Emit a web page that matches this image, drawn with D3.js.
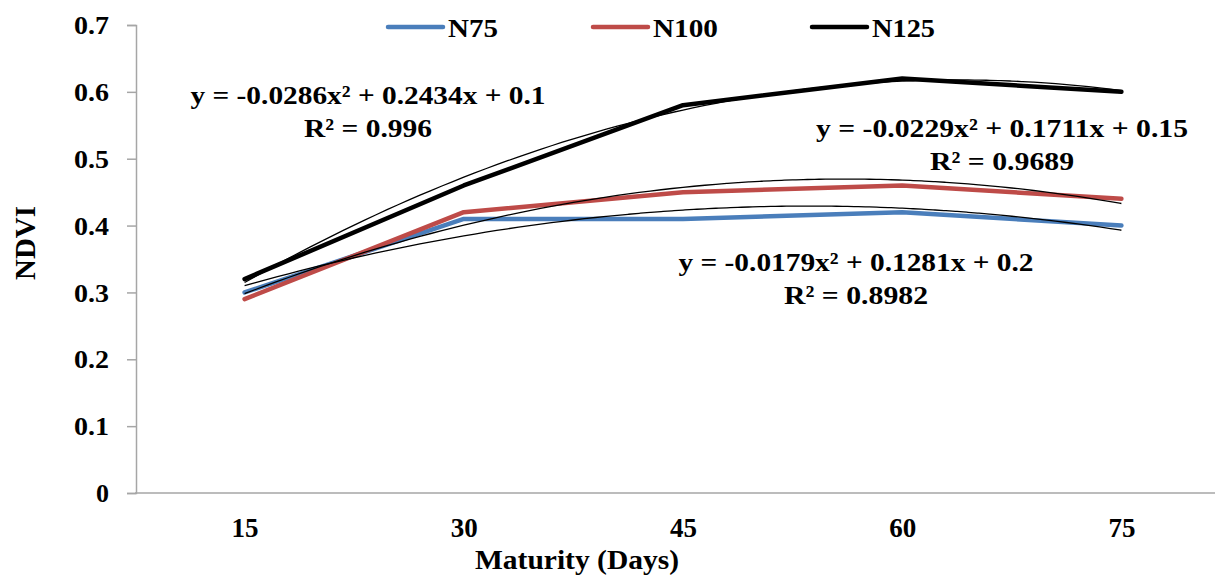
<!DOCTYPE html>
<html>
<head>
<meta charset="utf-8">
<script src="https://cdn.jsdelivr.net/npm/d3@7"></script>
<style>
  html, body { margin: 0; padding: 0; background: #fff; }
  svg text { font-family: "Liberation Serif", "Times New Roman", serif; font-weight: bold; fill: #000; }
</style>
</head>
<body>
<svg id="chart" width="1215" height="575"></svg>
<script>
// Maturity stages (days after sowing)
const days = ["15", "30", "45", "60", "75"];

// NDVI readings per nitrogen level
const n75  = [0.30, 0.41, 0.41, 0.42, 0.40];
const n100 = [0.29, 0.42, 0.45, 0.46, 0.44];
const n125 = [0.32, 0.46, 0.58, 0.62, 0.60];

const seriesNames  = ["N75", "N100", "N125"];
const seriesColors = ["#4a7ebb", "#be4b48", "#000000"];

// Polynomial (order 2) trendline coefficients [a, b, c] : y = a x^2 + b x + c, x = category index 1..5
const trendN75  = [-0.0179, 0.1281, 0.2];
const trendN100 = [-0.0229, 0.1711, 0.15];
const trendN125 = [-0.0286, 0.2434, 0.1];

const trendLabels = [
  ["y = -0.0179x² + 0.1281x + 0.2", "R² = 0.8982"],
  ["y = -0.0229x² + 0.1711x + 0.15", "R² = 0.9689"],
  ["y = -0.0286x² + 0.2434x + 0.1", "R² = 0.996"]
];

const yTicks = [0, 0.1, 0.2, 0.3, 0.4, 0.5, 0.6, 0.7];

const svg = d3.select("#chart");

const x = d3.scalePoint().domain(days).range([135, 1231]).padding(0.5);
const y = d3.scaleLinear().domain([0, 0.7]).range([493, 25]);

// x position for a fractional category index (1-based)
const xIdx = d3.scaleLinear().domain([1, 5]).range([x(days[0]), x(days[4])]);

// Axes
const yAxis = d3.axisLeft(y).tickValues(yTicks).tickSize(9).tickPadding(18)
  .tickFormat(d => d === 0 ? "0" : d3.format(".1f")(d));
const gy = svg.append("g").attr("transform", "translate(136,0)").call(yAxis);
gy.select(".domain").attr("stroke", "#a6a6a6").attr("stroke-width", 1.5);
gy.selectAll(".tick line").attr("stroke", "#a6a6a6").attr("stroke-width", 1.5);
gy.selectAll(".tick text")
  .style("font-size", "26px").attr("fill", "#000")
  .attr("dy", "0.33em")
  .attr("textLength", d => d === 0 ? 13 : 35)
  .attr("lengthAdjust", "spacingAndGlyphs");

const xAxis = d3.axisBottom(x).tickSize(0).tickPadding(0);
const gx = svg.append("g").attr("transform", "translate(0,493)").call(xAxis);
gx.select(".domain").attr("stroke", "#a6a6a6").attr("stroke-width", 1.5)
  .attr("d", "M135,0H1215");
gx.selectAll(".tick text")
  .style("font-size", "27px").attr("fill", "#000")
  .attr("dy", null).attr("y", 44);

// Axis titles
svg.append("text")
  .attr("transform", "translate(35,243) rotate(-90)")
  .attr("text-anchor", "middle")
  .style("font-size", "29px")
  .text("NDVI");

svg.append("text")
  .attr("x", 577).attr("y", 569)
  .attr("text-anchor", "middle")
  .style("font-size", "27px")
  .attr("textLength", 204).attr("lengthAdjust", "spacingAndGlyphs")
  .text("Maturity (Days)");

// Series lines
const allSeries = [n75, n100, n125];
const line = d3.line().x((d, i) => x(days[i])).y(d => y(d));

svg.append("g").selectAll("path.series")
  .data(allSeries)
  .join("path")
  .attr("class", "series")
  .attr("d", d => line(d))
  .attr("fill", "none")
  .attr("stroke", (d, i) => seriesColors[i])
  .attr("stroke-width", 4.5)
  .attr("stroke-linejoin", "round")
  .attr("stroke-linecap", "round");

// Trendlines
const trends = [trendN75, trendN100, trendN125];
const samples = d3.range(1, 5.0001, 0.05);
const trendLine = d3.line()
  .x(t => xIdx(t[0]))
  .y(t => y(t[1]))
  .curve(d3.curveBasis);

svg.append("g").selectAll("path.trend")
  .data(trends)
  .join("path")
  .attr("class", "trend")
  .attr("d", c => trendLine(samples.map(t => [t, c[0] * t * t + c[1] * t + c[2]])))
  .attr("fill", "none")
  .attr("stroke", "#000")
  .attr("stroke-width", 1.3);

// Trendline equation labels (centre x, baselines, text widths)
const labelPos = [
  { cx: 856, y1: 271, y2: 304, w1: 355, w2: 144 },
  { cx: 1002, y1: 137, y2: 170, w1: 372, w2: 144 },
  { cx: 368, y1: 104, y2: 137, w1: 355, w2: 128 }
];
trendLabels.forEach((lbl, i) => {
  const p = labelPos[i];
  svg.append("text").attr("x", p.cx).attr("y", p.y1)
    .attr("text-anchor", "middle").style("font-size", "26px")
    .attr("textLength", p.w1).attr("lengthAdjust", "spacingAndGlyphs")
    .text(lbl[0]);
  svg.append("text").attr("x", p.cx).attr("y", p.y2)
    .attr("text-anchor", "middle").style("font-size", "26px")
    .attr("textLength", p.w2).attr("lengthAdjust", "spacingAndGlyphs")
    .text(lbl[1]);
});

// Legend
const legendX = [388, 593, 812];
const legendW = [50, 65, 63];
const legend = svg.append("g");
seriesNames.forEach((name, i) => {
  legend.append("line")
    .attr("x1", legendX[i]).attr("x2", legendX[i] + 55)
    .attr("y1", 27).attr("y2", 27)
    .attr("stroke", seriesColors[i]).attr("stroke-width", 4.5)
    .attr("stroke-linecap", "round");
  legend.append("text")
    .attr("x", legendX[i] + 60).attr("y", 37)
    .style("font-size", "26px")
    .attr("textLength", legendW[i]).attr("lengthAdjust", "spacingAndGlyphs")
    .text(name);
});
</script>
</body>
</html>
